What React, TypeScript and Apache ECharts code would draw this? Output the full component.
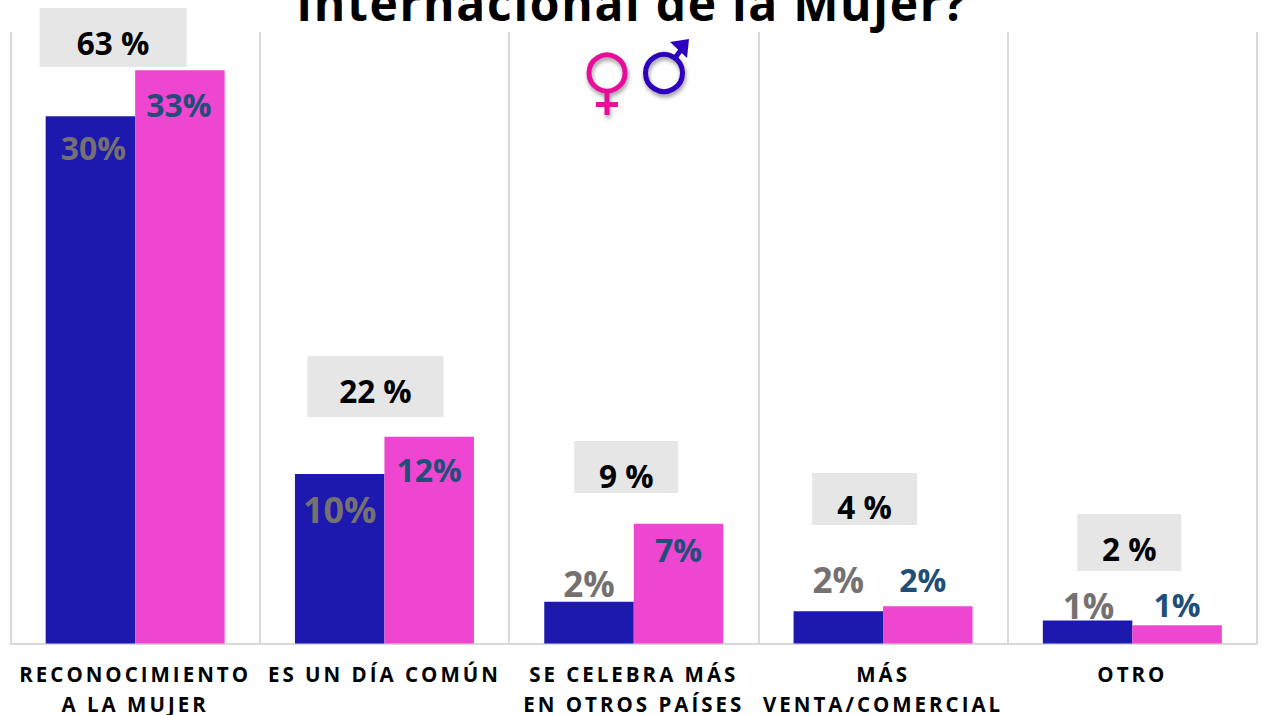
import React, { useEffect, useRef } from "react";
import * as echarts from "echarts";

const categories = ["RECONOCIMIENTO\nA LA MUJER", "ES UN DÍA COMÚN", "SE CELEBRA MÁS\nEN OTROS PAÍSES", "MÁS\nVENTA/COMERCIAL", "OTRO"];
const hombres = [30.35, 9.75, 2.4, 1.85, 1.33];
const mujeres = [33, 11.9, 6.9, 2.15, 1.05];
const hombresLabels = ["30%", "10%", "2%", "2%", "1%"];
const mujeresLabels = ["33%", "12%", "7%", "2%", "1%"];
const totalLabels = ["63 %", "22 %", "9 %", "4 %", "2 %"];
const titleText = "Internacional de la Mujer?";

const FONT = '"Open Sans", sans-serif';
const totalBoxes = [
  { dx: -22, top: 8, h: 59, w: 147, textDy: 4.5 },
  { dx: -9, top: 356, h: 61, w: 136, textDy: 4 },
  { dx: -7.5, top: 441, h: 52, w: 104, textDy: 8.5 },
  { dx: -18.5, top: 473, h: 52, w: 105, textDy: 7.5 },
  { dx: -3, top: 514, h: 57, w: 104, textDy: 6 },
];
const hombresStyle = [
  { size: 32, offset: [3, 52] }, { size: 36, offset: [0, 58] }, { size: 35, offset: [0, 4] },
  { size: 35, offset: [0, -9] }, { size: 35, offset: [1, 8] },
];
const mujeresStyle = [
  { size: 32, offset: [-1, 55] }, { size: 32, offset: [0, 54] }, { size: 32, offset: [0, 47] },
  { size: 32, offset: [-5, -6] }, { size: 32, offset: [0, 0] },
];

export default function App() {
  const ref = useRef<HTMLDivElement>(null);
  useEffect(() => {
    const chart = echarts.init(ref.current!, null, { renderer: "svg" });
    const pink = "#E6119A";
    const violet = "#2E00BE";
    const shadow = { shadowBlur: 4, shadowColor: "rgba(0,0,0,0.4)", shadowOffsetX: 1, shadowOffsetY: 3 };
    chart.setOption({
      animation: false,
      backgroundColor: "#ffffff",
      textStyle: { fontFamily: FONT },
      grid: { left: 10.5, right: 7, top: 32, bottom: 71.5, containLabel: false, outerBoundsMode: "none" },
      title: {
        text: titleText, left: "center", top: -27,
        textStyle: { fontFamily: FONT, fontSize: 48, fontWeight: "bold", color: "#000000" },
      },
      xAxis: {
        type: "category",
        data: categories,
        axisTick: { show: false },
        axisLine: { lineStyle: { color: "#D9D9D9", width: 2 } },
        splitLine: { show: true, lineStyle: { color: "#D9D9D9", width: 2 } },
        axisLabel: {
          interval: 0, margin: 15, lineHeight: 30, align: "center", verticalAlign: "top",
          fontFamily: FONT, fontSize: 20.5, fontWeight: "bold", color: "#000000",
        },
      },
      yAxis: { type: "value", min: 0, max: 35.2, show: false, splitLine: { show: false } },
      series: [
        {
          type: "bar", name: "Hombres", barWidth: 89.5, barGap: "0%",
          itemStyle: { color: "#1D18AE" },
          data: hombres.map((v, i) => ({
            value: v,
            label: {
              show: true, position: "top", formatter: hombresLabels[i], color: "#767171",
              fontFamily: FONT, fontWeight: "bold", fontSize: hombresStyle[i].size, offset: hombresStyle[i].offset,
            },
          })),
        },
        {
          type: "bar", name: "Mujeres", barWidth: 89.5, barGap: "0%",
          itemStyle: { color: "#EE46D0" },
          data: mujeres.map((v, i) => ({
            value: v,
            label: {
              show: true, position: "top", formatter: mujeresLabels[i], color: "#1F4E79",
              fontFamily: FONT, fontWeight: "bold", fontSize: mujeresStyle[i].size, offset: mujeresStyle[i].offset,
            },
          })),
        },
        {
          type: "custom", name: "Total", silent: true, z: 5,
          data: totalLabels.map((_, i) => [i, 0]),
          renderItem: (params: any, api: any) => {
            const i = params.dataIndex;
            const cx = api.coord([i, 0])[0] + totalBoxes[i].dx;
            const b = totalBoxes[i];
            return {
              type: "group",
              children: [
                { type: "rect", shape: { x: cx - b.w / 2, y: b.top, width: b.w, height: b.h }, style: { fill: "#E6E6E6" } },
                {
                  type: "text", x: cx, y: b.top + b.h / 2 + b.textDy,
                  style: {
                    text: totalLabels[i], fill: "#000000", font: `bold 31.5px ${FONT}`,
                    align: "center", verticalAlign: "middle",
                  },
                },
              ],
            };
          },
        },
      ],
      graphic: [
        { type: "circle", shape: { cx: 607, cy: 73, r: 18 }, style: { fill: "none", stroke: pink, lineWidth: 5, ...shadow } },
        { type: "rect", shape: { x: 604.5, y: 93, width: 5, height: 22 }, style: { fill: pink, ...shadow } },
        { type: "rect", shape: { x: 596, y: 102, width: 22, height: 5 }, style: { fill: pink } },
        { type: "circle", shape: { cx: 664, cy: 73, r: 18.5 }, style: { fill: "none", stroke: violet, lineWidth: 5, ...shadow } },
        { type: "line", shape: { x1: 675, y1: 58, x2: 684, y2: 46 }, style: { stroke: violet, lineWidth: 5 } },
        { type: "polygon", shape: { points: [[670, 42], [689, 39], [687, 58]] }, style: { fill: violet } },
      ],
    });
    return () => chart.dispose();
  }, []);
  return (
    <div style={{ position: "fixed", left: 0, top: 0, width: 1264, height: 715, overflow: "hidden" }}>
      <style>{`
        svg text[style*="20.5px"] { letter-spacing: 3px; }
        svg text[style*="48px"] { letter-spacing: 1.7px; }
      `}</style>
      <div ref={ref} style={{ width: 1264, height: 715 }} />
    </div>
  );
}
